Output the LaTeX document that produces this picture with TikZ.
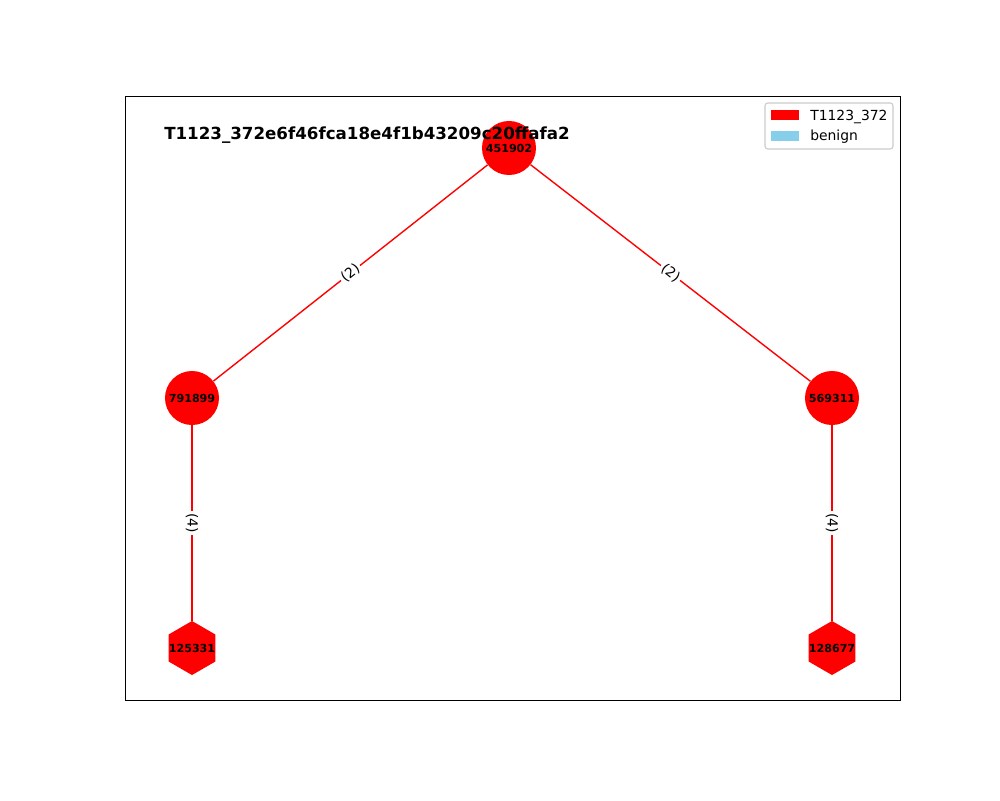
\documentclass[tikz,border=0pt]{standalone}
\usepackage{fontspec}
\setmainfont{DejaVu Sans}
\usetikzlibrary{shapes.geometric}
\definecolor{skyblue}{RGB}{135,206,235}
\begin{document}
\begin{tikzpicture}[x=0.72pt,y=-0.72pt,
  circnode/.style={circle,fill=red,minimum size=38.9pt,inner sep=0pt},
  hexnode/.style={regular polygon,regular polygon sides=6,shape border rotate=30,
    fill=red,minimum size=38.9pt,inner sep=0pt},
  idlabel/.style={font=\fontsize{8}{9}\selectfont\bfseries,inner sep=0pt},
  link/.style={red,line width=1pt},
  weight/.style={fill=white,text=black,font=\fontsize{10}{12}\selectfont,inner sep=1.5pt,rounded corners=2pt},
  legendtext/.style={anchor=west,font=\fontsize{10}{12}\selectfont,inner sep=0pt}]
\useasboundingbox (0,0) rectangle (1000,800);
\fill[white] (0,0) rectangle (1000,800);
% axes frame
\draw[line width=0.6pt] (125,96) rectangle (900,700);

% nodes
\node[circnode] (n451902) at (509,148) {};
\node[circnode] (n791899) at (192,398) {};
\node[circnode] (n569311) at (832,398) {};
\node[hexnode]  (n125331) at (192,648) {};
\node[hexnode]  (n128677) at (832,648) {};

% edges with weights
\draw[link] (n451902) -- node[weight,rotate=38.3]{(2)} (n791899);
\draw[link] (n451902) -- node[weight,rotate=-38.3]{(2)} (n569311);
\draw[link] (n791899) -- node[weight,rotate=-90]{(4)} (n125331);
\draw[link] (n569311) -- node[weight,rotate=-90]{(4)} (n128677);

% node ids
\node[idlabel] (t451902) at ([yshift=-0.5]n451902) {451902};
\node[idlabel] (t791899) at ([yshift=-0.5]n791899) {791899};
\node[idlabel] (t569311) at ([yshift=-0.5]n569311) {569311};
\node[idlabel] (t125331) at ([yshift=-0.5]n125331) {125331};
\node[idlabel] (t128677) at ([yshift=-0.5]n128677) {128677};

% title
\node[anchor=west,inner sep=0pt,font=\fontsize{12}{14}\selectfont\bfseries] (title) at (164,135)
  {T1123\_372e6f46fca18e4f1b43209c20ffafa2};

% legend
\draw[black!20,fill=white,rounded corners=2pt,line width=0.8pt] (765,103) rectangle (893,149);
\fill[red] (771,110) rectangle (799,120);
\fill[skyblue] (771,131) rectangle (799,141);
\node[legendtext] (lgA) at (810,117) {T1123\_372};
\node[legendtext] (lgB) at (810,137) {benign};
\end{tikzpicture}
\end{document}
